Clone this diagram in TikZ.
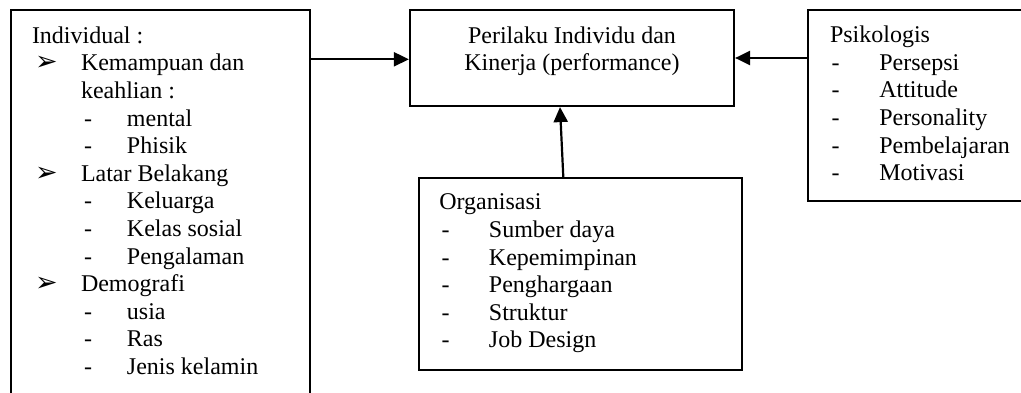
\documentclass[tikz,border=0pt]{standalone}
\usepackage{fontspec}
\setmainfont{Liberation Serif}
\newfontfamily\symfont{DejaVu Sans}
\usetikzlibrary{arrows.meta}

% list markers
\newcommand\arrowglyph{{\symfont\fontsize{27}{27}\selectfont ➢}}
\newcommand\bulitem[1]{\hspace*{3pt}\makebox[46pt][l]{\arrowglyph}#1}
\newcommand\bulcont[1]{\hspace*{49pt}#1}
\newcommand\dashrow[3]{\hspace*{#1}\makebox[#2][l]{-}#3}
\newcommand\blocktext[2]{\begin{minipage}[t]{#1}\fontsize{24}{27.6}\selectfont #2\end{minipage}}

\begin{document}
\begin{tikzpicture}[x=1pt,y=-1pt,
  box/.style={draw, rectangle, line width=2.2pt, inner sep=0pt},
  txt/.style={anchor=base west, inner sep=0pt, outer sep=0pt},
  conn/.style={line width=2.2pt, -{Triangle[length=15pt,width=14pt]}}]
  \useasboundingbox (0,0) rectangle (1021,393);

  % boxes
  \node[box, minimum width=299pt, minimum height=400pt] (indiv) at (160.5,210) {};
  \node[box, minimum width=324pt, minimum height=96pt] (cbox) at (572,58) {};
  \node[box, minimum width=222pt, minimum height=191pt] (psi) at (919,105.5) {};
  \node[box, minimum width=323pt, minimum height=192pt] (org) at (580.5,274) {};

  % texts
  \node[txt] (indivtext) at (32,43.3) {\blocktext{270pt}{%
    Individual :\\
    \bulitem{Kemampuan dan}\\
    \bulcont{keahlian :}\\
    \dashrow{52pt}{43pt}{mental}\\
    \dashrow{52pt}{43pt}{Phisik}\\
    \bulitem{Latar Belakang}\\
    \dashrow{52pt}{43pt}{Keluarga}\\
    \dashrow{52pt}{43pt}{Kelas sosial}\\
    \dashrow{52pt}{43pt}{Pengalaman}\\
    \bulitem{Demografi}\\
    \dashrow{52pt}{43pt}{usia}\\
    \dashrow{52pt}{43pt}{Ras}\\
    \dashrow{52pt}{43pt}{Jenis kelamin}}};

  \node[anchor=base, inner sep=0pt] (ctext) at (572,43.3) {\blocktext{310pt}{\centering
    Perilaku Individu dan\\
    Kinerja (performance)}};

  \node[txt] (psitext) at (830,42.7) {\blocktext{190pt}{%
    Psikologis\\
    \dashrow{1.7pt}{47.6pt}{Persepsi}\\
    \dashrow{1.7pt}{47.6pt}{Attitude}\\
    \dashrow{1.7pt}{47.6pt}{Personality}\\
    \dashrow{1.7pt}{47.6pt}{Pembelajaran}\\
    \dashrow{1.7pt}{47.6pt}{Motivasi}}};

  \node[txt] (orgtext) at (439.3,210) {\blocktext{290pt}{%
    Organisasi\\
    \dashrow{2.4pt}{47.3pt}{Sumber daya}\\
    \dashrow{2.4pt}{47.3pt}{Kepemimpinan}\\
    \dashrow{2.4pt}{47.3pt}{Penghargaan}\\
    \dashrow{2.4pt}{47.3pt}{Struktur}\\
    \dashrow{2.4pt}{47.3pt}{Job Design}}};

  % connectors
  \draw[conn] ([yshift=-1.3pt]indiv.east |- cbox.west) -- ([yshift=-1.3pt]cbox.west);
  \draw[conn] (psi.west |- cbox.east) -- (cbox.east);
  \draw[conn] ([xshift=-17.2pt]org.north) -- ([xshift=-12pt]cbox.south);
\end{tikzpicture}
\end{document}
